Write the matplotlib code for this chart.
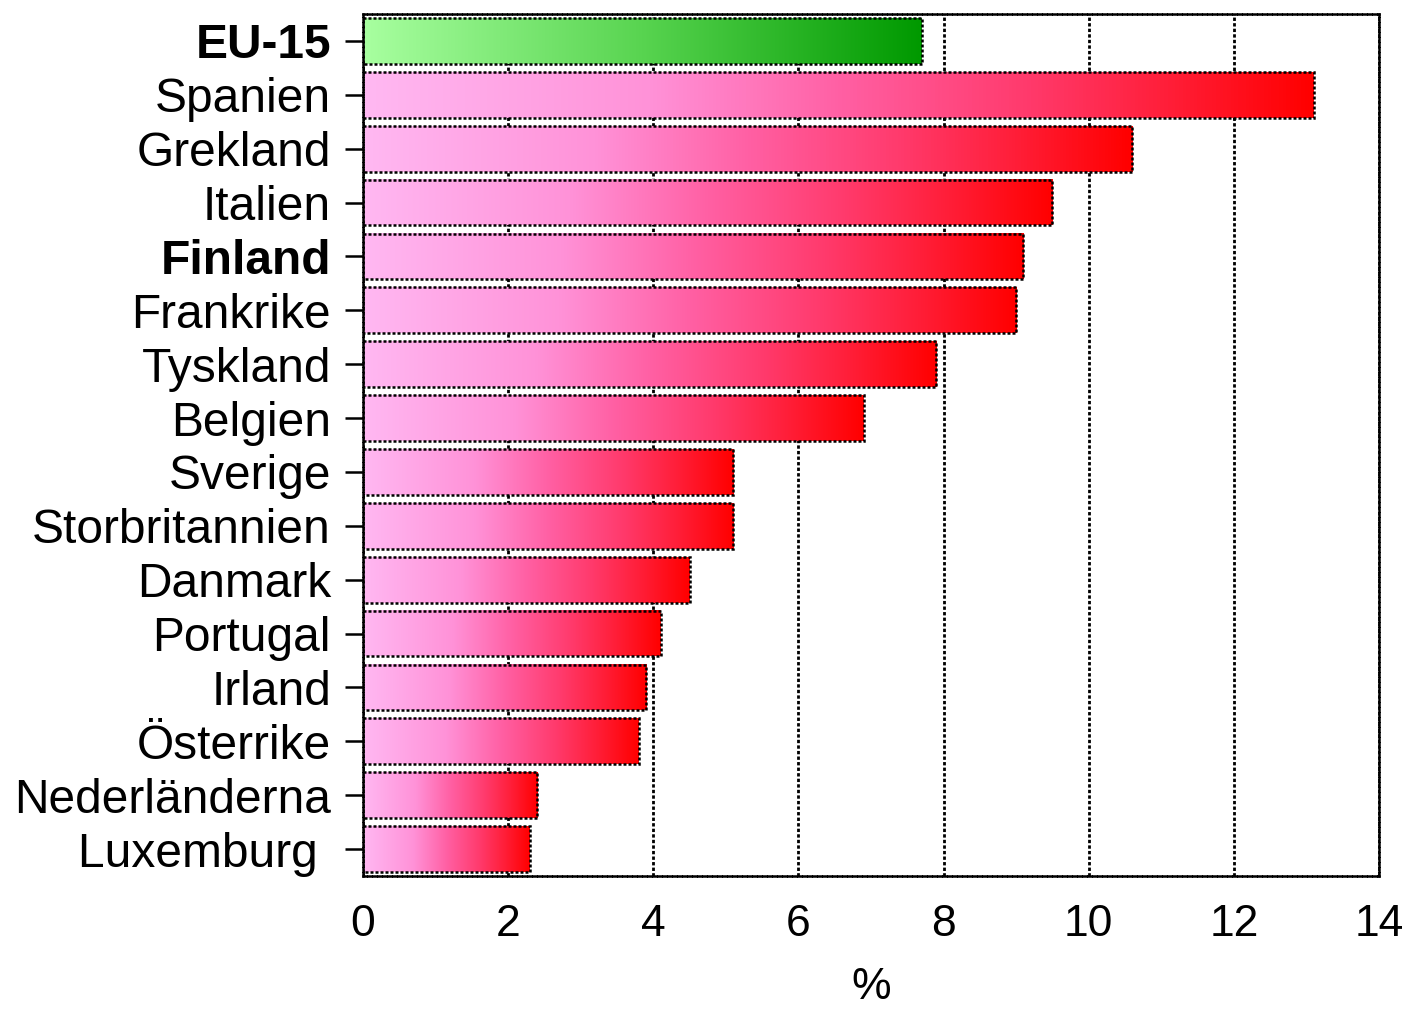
import numpy as np
import matplotlib as mpl
mpl.use("Agg")
import matplotlib.pyplot as plt
from matplotlib.colors import LinearSegmentedColormap

# Data, top to bottom
countries = ["EU-15", "Spanien", "Grekland", "Italien", "Finland", "Frankrike",
             "Tyskland", "Belgien", "Sverige", "Storbritannien", "Danmark",
             "Portugal", "Irland", "Österrike", "Nederländerna", "Luxemburg "]
values = [7.7, 13.1, 10.6, 9.5, 9.1, 9.0, 7.9, 6.9, 5.1, 5.1, 4.5,
          4.1, 3.9, 3.8, 2.4, 2.3]
bold_labels = ["EU-15", "Finland"]
xticks = [0, 2, 4, 6, 8, 10, 12, 14]

mpl.rc("font", family=["Liberation Sans", "DejaVu Sans"])

pink_red = LinearSegmentedColormap.from_list(
    "pr", [(0.0, "#ffb8f2"), (0.3, "#ff92d8"), (0.5, "#ff60a4"),
           (0.7, "#ff3a6c"), (0.85, "#ff1e38"), (1.0, "#ff0000")])
green = LinearSegmentedColormap.from_list(
    "gr", [(0.0, "#a8ffa0"), (0.5, "#58d450"), (1.0, "#009900")])

fig = plt.figure(figsize=(14.08, 10.10), dpi=100)
ax = fig.add_axes([0.2578, 0.1327, 0.7216, 0.8534])

dots = (0, (1.2, 0.8))
h = 0.85
grad = np.linspace(0, 1, 256).reshape(1, -1)
ypos = np.arange(len(countries))
for i, (c, v) in enumerate(zip(countries, values)):
    cmap = green if c == "EU-15" else pink_red
    ax.imshow(grad, cmap=cmap, aspect="auto", interpolation="bilinear",
              extent=(0, v, i + h/2, i - h/2), zorder=2)
ax.barh(ypos, values, height=h, facecolor="none", edgecolor="black",
        linestyle=dots, linewidth=1.8, zorder=3)

ax.set_xlim(0, 14)
ax.set_ylim(len(countries) - 0.5, -0.5)
ax.set_xticks(xticks)
ax.set_xticklabels([str(t) for t in xticks], fontsize=32)
ax.set_yticks(ypos)
ax.set_yticklabels(countries, fontsize=34.5)
for lab in ax.get_yticklabels():
    if lab.get_text() in bold_labels:
        lab.set_fontweight("bold")

ax.tick_params(axis="x", length=0, pad=20)
ax.tick_params(axis="y", length=13, width=1.8, direction="out", pad=10)
for t in ax.yaxis.get_ticklines():
    t.set_linestyle(dots)

ax.set_axisbelow(True)
ax.xaxis.grid(True, color="black", linestyle=dots, linewidth=2.0, zorder=0)
for s in ax.spines.values():
    s.set_linestyle(dots)
    s.set_linewidth(1.8)

fig.text(0.6187, 2/1010, "%", fontsize=32, ha="center", va="bottom")

fig.savefig("out.png", dpi=100)
